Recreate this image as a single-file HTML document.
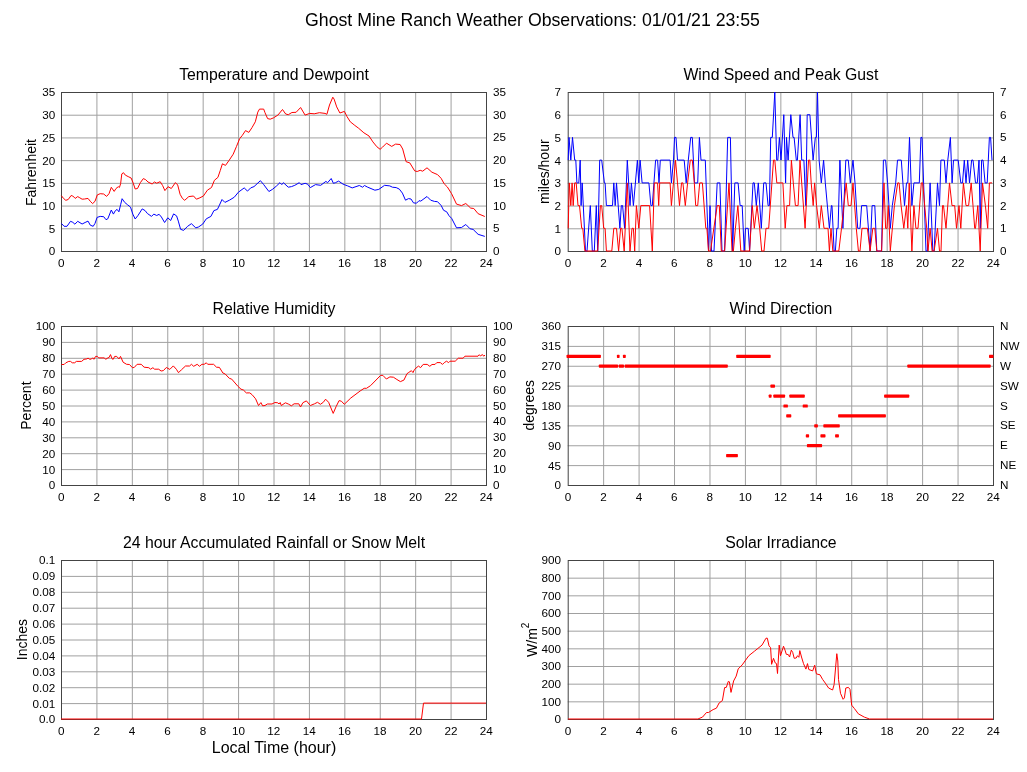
<!DOCTYPE html>
<html><head><meta charset="utf-8"><title>Ghost Mine Ranch Weather Observations</title>
<style>html,body{margin:0;padding:0;background:#fff;}svg{display:block;will-change:transform;}</style></head>
<body><svg width="1027" height="772" viewBox="0 0 1027 772" font-family="'Liberation Sans', Arial, Helvetica, sans-serif" font-size="11.7" fill="#000">
<rect width="1027" height="772" fill="#fff"/>
<text x="532.5" y="26" text-anchor="middle" font-size="17.7">Ghost Mine Ranch Weather Observations: 01/01/21 23:55</text>
<line x1="96.92" y1="92" x2="96.92" y2="251" stroke="#a0a0a0"/>
<line x1="132.33" y1="92" x2="132.33" y2="251" stroke="#a0a0a0"/>
<line x1="167.75" y1="92" x2="167.75" y2="251" stroke="#a0a0a0"/>
<line x1="203.17" y1="92" x2="203.17" y2="251" stroke="#a0a0a0"/>
<line x1="238.58" y1="92" x2="238.58" y2="251" stroke="#a0a0a0"/>
<line x1="274.00" y1="92" x2="274.00" y2="251" stroke="#a0a0a0"/>
<line x1="309.42" y1="92" x2="309.42" y2="251" stroke="#a0a0a0"/>
<line x1="344.83" y1="92" x2="344.83" y2="251" stroke="#a0a0a0"/>
<line x1="380.25" y1="92" x2="380.25" y2="251" stroke="#a0a0a0"/>
<line x1="415.67" y1="92" x2="415.67" y2="251" stroke="#a0a0a0"/>
<line x1="451.08" y1="92" x2="451.08" y2="251" stroke="#a0a0a0"/>
<line x1="61" y1="115.21" x2="486" y2="115.21" stroke="#a0a0a0"/>
<line x1="61" y1="137.93" x2="486" y2="137.93" stroke="#a0a0a0"/>
<line x1="61" y1="160.64" x2="486" y2="160.64" stroke="#a0a0a0"/>
<line x1="61" y1="183.36" x2="486" y2="183.36" stroke="#a0a0a0"/>
<line x1="61" y1="206.07" x2="486" y2="206.07" stroke="#a0a0a0"/>
<line x1="61" y1="228.79" x2="486" y2="228.79" stroke="#a0a0a0"/>
<rect x="61.5" y="92.5" width="425" height="159" fill="none" stroke="#444444"/>
<line x1="603.64" y1="92" x2="603.64" y2="251" stroke="#a0a0a0"/>
<line x1="639.08" y1="92" x2="639.08" y2="251" stroke="#a0a0a0"/>
<line x1="674.53" y1="92" x2="674.53" y2="251" stroke="#a0a0a0"/>
<line x1="709.97" y1="92" x2="709.97" y2="251" stroke="#a0a0a0"/>
<line x1="745.41" y1="92" x2="745.41" y2="251" stroke="#a0a0a0"/>
<line x1="780.85" y1="92" x2="780.85" y2="251" stroke="#a0a0a0"/>
<line x1="816.29" y1="92" x2="816.29" y2="251" stroke="#a0a0a0"/>
<line x1="851.73" y1="92" x2="851.73" y2="251" stroke="#a0a0a0"/>
<line x1="887.17" y1="92" x2="887.17" y2="251" stroke="#a0a0a0"/>
<line x1="922.62" y1="92" x2="922.62" y2="251" stroke="#a0a0a0"/>
<line x1="958.06" y1="92" x2="958.06" y2="251" stroke="#a0a0a0"/>
<line x1="567.7" y1="115.21" x2="993" y2="115.21" stroke="#a0a0a0"/>
<line x1="567.7" y1="137.93" x2="993" y2="137.93" stroke="#a0a0a0"/>
<line x1="567.7" y1="160.64" x2="993" y2="160.64" stroke="#a0a0a0"/>
<line x1="567.7" y1="183.36" x2="993" y2="183.36" stroke="#a0a0a0"/>
<line x1="567.7" y1="206.07" x2="993" y2="206.07" stroke="#a0a0a0"/>
<line x1="567.7" y1="228.79" x2="993" y2="228.79" stroke="#a0a0a0"/>
<rect x="568.2" y="92.5" width="425.29999999999995" height="159" fill="none" stroke="#444444"/>
<text x="55.2" y="255.4" text-anchor="end">0</text>
<text x="55.2" y="232.7" text-anchor="end">5</text>
<text x="55.2" y="210.0" text-anchor="end">10</text>
<text x="55.2" y="187.3" text-anchor="end">15</text>
<text x="55.2" y="164.5" text-anchor="end">20</text>
<text x="55.2" y="141.8" text-anchor="end">25</text>
<text x="55.2" y="119.1" text-anchor="end">30</text>
<text x="55.2" y="96.4" text-anchor="end">35</text>
<text x="493" y="255.0">0</text>
<text x="493" y="232.3">5</text>
<text x="493" y="209.6">10</text>
<text x="493" y="186.9">15</text>
<text x="493" y="164.1">20</text>
<text x="493" y="141.4">25</text>
<text x="493" y="118.7">30</text>
<text x="493" y="96.0">35</text>
<text x="561.0" y="255.4" text-anchor="end">0</text>
<text x="561.0" y="232.7" text-anchor="end">1</text>
<text x="561.0" y="210.0" text-anchor="end">2</text>
<text x="561.0" y="187.3" text-anchor="end">3</text>
<text x="561.0" y="164.5" text-anchor="end">4</text>
<text x="561.0" y="141.8" text-anchor="end">5</text>
<text x="561.0" y="119.1" text-anchor="end">6</text>
<text x="561.0" y="96.4" text-anchor="end">7</text>
<text x="1000" y="255.0">0</text>
<text x="1000" y="232.3">1</text>
<text x="1000" y="209.6">2</text>
<text x="1000" y="186.9">3</text>
<text x="1000" y="164.1">4</text>
<text x="1000" y="141.4">5</text>
<text x="1000" y="118.7">6</text>
<text x="1000" y="96.0">7</text>
<text x="61.3" y="266.5" text-anchor="middle">0</text>
<text x="96.7" y="266.5" text-anchor="middle">2</text>
<text x="132.1" y="266.5" text-anchor="middle">4</text>
<text x="167.6" y="266.5" text-anchor="middle">6</text>
<text x="203.0" y="266.5" text-anchor="middle">8</text>
<text x="238.4" y="266.5" text-anchor="middle">10</text>
<text x="273.8" y="266.5" text-anchor="middle">12</text>
<text x="309.2" y="266.5" text-anchor="middle">14</text>
<text x="344.6" y="266.5" text-anchor="middle">16</text>
<text x="380.1" y="266.5" text-anchor="middle">18</text>
<text x="415.5" y="266.5" text-anchor="middle">20</text>
<text x="450.9" y="266.5" text-anchor="middle">22</text>
<text x="486.3" y="266.5" text-anchor="middle">24</text>
<text x="568.0" y="266.5" text-anchor="middle">0</text>
<text x="603.4" y="266.5" text-anchor="middle">2</text>
<text x="638.9" y="266.5" text-anchor="middle">4</text>
<text x="674.3" y="266.5" text-anchor="middle">6</text>
<text x="709.8" y="266.5" text-anchor="middle">8</text>
<text x="745.2" y="266.5" text-anchor="middle">10</text>
<text x="780.6" y="266.5" text-anchor="middle">12</text>
<text x="816.1" y="266.5" text-anchor="middle">14</text>
<text x="851.5" y="266.5" text-anchor="middle">16</text>
<text x="887.0" y="266.5" text-anchor="middle">18</text>
<text x="922.4" y="266.5" text-anchor="middle">20</text>
<text x="957.9" y="266.5" text-anchor="middle">22</text>
<text x="993.3" y="266.5" text-anchor="middle">24</text>
<text x="274.0" y="80" text-anchor="middle" font-size="15.8">Temperature and Dewpoint</text>
<text x="780.9" y="80" text-anchor="middle" font-size="15.8">Wind Speed and Peak Gust</text>
<text transform="translate(35.5,172.5) rotate(-90)" text-anchor="middle" font-size="14">Fahrenheit</text>
<text transform="translate(548.5,171.7) rotate(-90)" text-anchor="middle" font-size="14">miles/hour</text>
<line x1="96.92" y1="326" x2="96.92" y2="485" stroke="#a0a0a0"/>
<line x1="132.33" y1="326" x2="132.33" y2="485" stroke="#a0a0a0"/>
<line x1="167.75" y1="326" x2="167.75" y2="485" stroke="#a0a0a0"/>
<line x1="203.17" y1="326" x2="203.17" y2="485" stroke="#a0a0a0"/>
<line x1="238.58" y1="326" x2="238.58" y2="485" stroke="#a0a0a0"/>
<line x1="274.00" y1="326" x2="274.00" y2="485" stroke="#a0a0a0"/>
<line x1="309.42" y1="326" x2="309.42" y2="485" stroke="#a0a0a0"/>
<line x1="344.83" y1="326" x2="344.83" y2="485" stroke="#a0a0a0"/>
<line x1="380.25" y1="326" x2="380.25" y2="485" stroke="#a0a0a0"/>
<line x1="415.67" y1="326" x2="415.67" y2="485" stroke="#a0a0a0"/>
<line x1="451.08" y1="326" x2="451.08" y2="485" stroke="#a0a0a0"/>
<line x1="61" y1="342.40" x2="486" y2="342.40" stroke="#a0a0a0"/>
<line x1="61" y1="358.30" x2="486" y2="358.30" stroke="#a0a0a0"/>
<line x1="61" y1="374.20" x2="486" y2="374.20" stroke="#a0a0a0"/>
<line x1="61" y1="390.10" x2="486" y2="390.10" stroke="#a0a0a0"/>
<line x1="61" y1="406.00" x2="486" y2="406.00" stroke="#a0a0a0"/>
<line x1="61" y1="421.90" x2="486" y2="421.90" stroke="#a0a0a0"/>
<line x1="61" y1="437.80" x2="486" y2="437.80" stroke="#a0a0a0"/>
<line x1="61" y1="453.70" x2="486" y2="453.70" stroke="#a0a0a0"/>
<line x1="61" y1="469.60" x2="486" y2="469.60" stroke="#a0a0a0"/>
<rect x="61.5" y="326.5" width="425" height="159" fill="none" stroke="#444444"/>
<line x1="603.64" y1="326" x2="603.64" y2="485" stroke="#a0a0a0"/>
<line x1="639.08" y1="326" x2="639.08" y2="485" stroke="#a0a0a0"/>
<line x1="674.53" y1="326" x2="674.53" y2="485" stroke="#a0a0a0"/>
<line x1="709.97" y1="326" x2="709.97" y2="485" stroke="#a0a0a0"/>
<line x1="745.41" y1="326" x2="745.41" y2="485" stroke="#a0a0a0"/>
<line x1="780.85" y1="326" x2="780.85" y2="485" stroke="#a0a0a0"/>
<line x1="816.29" y1="326" x2="816.29" y2="485" stroke="#a0a0a0"/>
<line x1="851.73" y1="326" x2="851.73" y2="485" stroke="#a0a0a0"/>
<line x1="887.17" y1="326" x2="887.17" y2="485" stroke="#a0a0a0"/>
<line x1="922.62" y1="326" x2="922.62" y2="485" stroke="#a0a0a0"/>
<line x1="958.06" y1="326" x2="958.06" y2="485" stroke="#a0a0a0"/>
<line x1="567.7" y1="346.38" x2="993" y2="346.38" stroke="#a0a0a0"/>
<line x1="567.7" y1="366.25" x2="993" y2="366.25" stroke="#a0a0a0"/>
<line x1="567.7" y1="386.12" x2="993" y2="386.12" stroke="#a0a0a0"/>
<line x1="567.7" y1="406.00" x2="993" y2="406.00" stroke="#a0a0a0"/>
<line x1="567.7" y1="425.88" x2="993" y2="425.88" stroke="#a0a0a0"/>
<line x1="567.7" y1="445.75" x2="993" y2="445.75" stroke="#a0a0a0"/>
<line x1="567.7" y1="465.62" x2="993" y2="465.62" stroke="#a0a0a0"/>
<rect x="568.2" y="326.5" width="425.29999999999995" height="159" fill="none" stroke="#444444"/>
<text x="55.2" y="489.4" text-anchor="end">0</text>
<text x="55.2" y="473.5" text-anchor="end">10</text>
<text x="55.2" y="457.6" text-anchor="end">20</text>
<text x="55.2" y="441.7" text-anchor="end">30</text>
<text x="55.2" y="425.8" text-anchor="end">40</text>
<text x="55.2" y="409.9" text-anchor="end">50</text>
<text x="55.2" y="394.0" text-anchor="end">60</text>
<text x="55.2" y="378.1" text-anchor="end">70</text>
<text x="55.2" y="362.2" text-anchor="end">80</text>
<text x="55.2" y="346.3" text-anchor="end">90</text>
<text x="55.2" y="330.4" text-anchor="end">100</text>
<text x="493" y="489.0">0</text>
<text x="493" y="473.1">10</text>
<text x="493" y="457.2">20</text>
<text x="493" y="441.3">30</text>
<text x="493" y="425.4">40</text>
<text x="493" y="409.5">50</text>
<text x="493" y="393.6">60</text>
<text x="493" y="377.7">70</text>
<text x="493" y="361.8">80</text>
<text x="493" y="345.9">90</text>
<text x="493" y="330.0">100</text>
<text x="561.0" y="489.4" text-anchor="end">0</text>
<text x="561.0" y="469.5" text-anchor="end">45</text>
<text x="561.0" y="449.6" text-anchor="end">90</text>
<text x="561.0" y="429.8" text-anchor="end">135</text>
<text x="561.0" y="409.9" text-anchor="end">180</text>
<text x="561.0" y="390.0" text-anchor="end">225</text>
<text x="561.0" y="370.1" text-anchor="end">270</text>
<text x="561.0" y="350.3" text-anchor="end">315</text>
<text x="561.0" y="330.4" text-anchor="end">360</text>
<text x="1000" y="489.0">N</text>
<text x="1000" y="469.1">NE</text>
<text x="1000" y="449.2">E</text>
<text x="1000" y="429.4">SE</text>
<text x="1000" y="409.5">S</text>
<text x="1000" y="389.6">SW</text>
<text x="1000" y="369.8">W</text>
<text x="1000" y="349.9">NW</text>
<text x="1000" y="330.0">N</text>
<text x="61.3" y="500.5" text-anchor="middle">0</text>
<text x="96.7" y="500.5" text-anchor="middle">2</text>
<text x="132.1" y="500.5" text-anchor="middle">4</text>
<text x="167.6" y="500.5" text-anchor="middle">6</text>
<text x="203.0" y="500.5" text-anchor="middle">8</text>
<text x="238.4" y="500.5" text-anchor="middle">10</text>
<text x="273.8" y="500.5" text-anchor="middle">12</text>
<text x="309.2" y="500.5" text-anchor="middle">14</text>
<text x="344.6" y="500.5" text-anchor="middle">16</text>
<text x="380.1" y="500.5" text-anchor="middle">18</text>
<text x="415.5" y="500.5" text-anchor="middle">20</text>
<text x="450.9" y="500.5" text-anchor="middle">22</text>
<text x="486.3" y="500.5" text-anchor="middle">24</text>
<text x="568.0" y="500.5" text-anchor="middle">0</text>
<text x="603.4" y="500.5" text-anchor="middle">2</text>
<text x="638.9" y="500.5" text-anchor="middle">4</text>
<text x="674.3" y="500.5" text-anchor="middle">6</text>
<text x="709.8" y="500.5" text-anchor="middle">8</text>
<text x="745.2" y="500.5" text-anchor="middle">10</text>
<text x="780.6" y="500.5" text-anchor="middle">12</text>
<text x="816.1" y="500.5" text-anchor="middle">14</text>
<text x="851.5" y="500.5" text-anchor="middle">16</text>
<text x="887.0" y="500.5" text-anchor="middle">18</text>
<text x="922.4" y="500.5" text-anchor="middle">20</text>
<text x="957.9" y="500.5" text-anchor="middle">22</text>
<text x="993.3" y="500.5" text-anchor="middle">24</text>
<text x="274.0" y="314" text-anchor="middle" font-size="15.8">Relative Humidity</text>
<text x="780.9" y="314" text-anchor="middle" font-size="15.8">Wind Direction</text>
<text transform="translate(30.7,405.6) rotate(-90)" text-anchor="middle" font-size="14">Percent</text>
<text transform="translate(533.8,405.2) rotate(-90)" text-anchor="middle" font-size="14">degrees</text>
<line x1="96.92" y1="560" x2="96.92" y2="719" stroke="#a0a0a0"/>
<line x1="132.33" y1="560" x2="132.33" y2="719" stroke="#a0a0a0"/>
<line x1="167.75" y1="560" x2="167.75" y2="719" stroke="#a0a0a0"/>
<line x1="203.17" y1="560" x2="203.17" y2="719" stroke="#a0a0a0"/>
<line x1="238.58" y1="560" x2="238.58" y2="719" stroke="#a0a0a0"/>
<line x1="274.00" y1="560" x2="274.00" y2="719" stroke="#a0a0a0"/>
<line x1="309.42" y1="560" x2="309.42" y2="719" stroke="#a0a0a0"/>
<line x1="344.83" y1="560" x2="344.83" y2="719" stroke="#a0a0a0"/>
<line x1="380.25" y1="560" x2="380.25" y2="719" stroke="#a0a0a0"/>
<line x1="415.67" y1="560" x2="415.67" y2="719" stroke="#a0a0a0"/>
<line x1="451.08" y1="560" x2="451.08" y2="719" stroke="#a0a0a0"/>
<line x1="61" y1="576.40" x2="486" y2="576.40" stroke="#a0a0a0"/>
<line x1="61" y1="592.30" x2="486" y2="592.30" stroke="#a0a0a0"/>
<line x1="61" y1="608.20" x2="486" y2="608.20" stroke="#a0a0a0"/>
<line x1="61" y1="624.10" x2="486" y2="624.10" stroke="#a0a0a0"/>
<line x1="61" y1="640.00" x2="486" y2="640.00" stroke="#a0a0a0"/>
<line x1="61" y1="655.90" x2="486" y2="655.90" stroke="#a0a0a0"/>
<line x1="61" y1="671.80" x2="486" y2="671.80" stroke="#a0a0a0"/>
<line x1="61" y1="687.70" x2="486" y2="687.70" stroke="#a0a0a0"/>
<line x1="61" y1="703.60" x2="486" y2="703.60" stroke="#a0a0a0"/>
<rect x="61.5" y="560.5" width="425" height="159" fill="none" stroke="#444444"/>
<line x1="603.64" y1="560" x2="603.64" y2="719" stroke="#a0a0a0"/>
<line x1="639.08" y1="560" x2="639.08" y2="719" stroke="#a0a0a0"/>
<line x1="674.53" y1="560" x2="674.53" y2="719" stroke="#a0a0a0"/>
<line x1="709.97" y1="560" x2="709.97" y2="719" stroke="#a0a0a0"/>
<line x1="745.41" y1="560" x2="745.41" y2="719" stroke="#a0a0a0"/>
<line x1="780.85" y1="560" x2="780.85" y2="719" stroke="#a0a0a0"/>
<line x1="816.29" y1="560" x2="816.29" y2="719" stroke="#a0a0a0"/>
<line x1="851.73" y1="560" x2="851.73" y2="719" stroke="#a0a0a0"/>
<line x1="887.17" y1="560" x2="887.17" y2="719" stroke="#a0a0a0"/>
<line x1="922.62" y1="560" x2="922.62" y2="719" stroke="#a0a0a0"/>
<line x1="958.06" y1="560" x2="958.06" y2="719" stroke="#a0a0a0"/>
<line x1="567.7" y1="578.17" x2="993" y2="578.17" stroke="#a0a0a0"/>
<line x1="567.7" y1="595.83" x2="993" y2="595.83" stroke="#a0a0a0"/>
<line x1="567.7" y1="613.50" x2="993" y2="613.50" stroke="#a0a0a0"/>
<line x1="567.7" y1="631.17" x2="993" y2="631.17" stroke="#a0a0a0"/>
<line x1="567.7" y1="648.83" x2="993" y2="648.83" stroke="#a0a0a0"/>
<line x1="567.7" y1="666.50" x2="993" y2="666.50" stroke="#a0a0a0"/>
<line x1="567.7" y1="684.17" x2="993" y2="684.17" stroke="#a0a0a0"/>
<line x1="567.7" y1="701.83" x2="993" y2="701.83" stroke="#a0a0a0"/>
<rect x="568.2" y="560.5" width="425.29999999999995" height="159" fill="none" stroke="#444444"/>
<text x="55.2" y="723.4" text-anchor="end">0.0</text>
<text x="55.2" y="707.5" text-anchor="end">0.01</text>
<text x="55.2" y="691.6" text-anchor="end">0.02</text>
<text x="55.2" y="675.7" text-anchor="end">0.03</text>
<text x="55.2" y="659.8" text-anchor="end">0.04</text>
<text x="55.2" y="643.9" text-anchor="end">0.05</text>
<text x="55.2" y="628.0" text-anchor="end">0.06</text>
<text x="55.2" y="612.1" text-anchor="end">0.07</text>
<text x="55.2" y="596.2" text-anchor="end">0.08</text>
<text x="55.2" y="580.3" text-anchor="end">0.09</text>
<text x="55.2" y="564.4" text-anchor="end">0.1</text>
<text x="561.0" y="723.4" text-anchor="end">0</text>
<text x="561.0" y="705.7" text-anchor="end">100</text>
<text x="561.0" y="688.1" text-anchor="end">200</text>
<text x="561.0" y="670.4" text-anchor="end">300</text>
<text x="561.0" y="652.7" text-anchor="end">400</text>
<text x="561.0" y="635.1" text-anchor="end">500</text>
<text x="561.0" y="617.4" text-anchor="end">600</text>
<text x="561.0" y="599.7" text-anchor="end">700</text>
<text x="561.0" y="582.1" text-anchor="end">800</text>
<text x="561.0" y="564.4" text-anchor="end">900</text>
<text x="61.3" y="734.5" text-anchor="middle">0</text>
<text x="96.7" y="734.5" text-anchor="middle">2</text>
<text x="132.1" y="734.5" text-anchor="middle">4</text>
<text x="167.6" y="734.5" text-anchor="middle">6</text>
<text x="203.0" y="734.5" text-anchor="middle">8</text>
<text x="238.4" y="734.5" text-anchor="middle">10</text>
<text x="273.8" y="734.5" text-anchor="middle">12</text>
<text x="309.2" y="734.5" text-anchor="middle">14</text>
<text x="344.6" y="734.5" text-anchor="middle">16</text>
<text x="380.1" y="734.5" text-anchor="middle">18</text>
<text x="415.5" y="734.5" text-anchor="middle">20</text>
<text x="450.9" y="734.5" text-anchor="middle">22</text>
<text x="486.3" y="734.5" text-anchor="middle">24</text>
<text x="568.0" y="734.5" text-anchor="middle">0</text>
<text x="603.4" y="734.5" text-anchor="middle">2</text>
<text x="638.9" y="734.5" text-anchor="middle">4</text>
<text x="674.3" y="734.5" text-anchor="middle">6</text>
<text x="709.8" y="734.5" text-anchor="middle">8</text>
<text x="745.2" y="734.5" text-anchor="middle">10</text>
<text x="780.6" y="734.5" text-anchor="middle">12</text>
<text x="816.1" y="734.5" text-anchor="middle">14</text>
<text x="851.5" y="734.5" text-anchor="middle">16</text>
<text x="887.0" y="734.5" text-anchor="middle">18</text>
<text x="922.4" y="734.5" text-anchor="middle">20</text>
<text x="957.9" y="734.5" text-anchor="middle">22</text>
<text x="993.3" y="734.5" text-anchor="middle">24</text>
<text x="274.0" y="548" text-anchor="middle" font-size="15.8">24 hour Accumulated Rainfall or Snow Melt</text>
<text x="780.9" y="548" text-anchor="middle" font-size="15.8">Solar Irradiance</text>
<text transform="translate(26.8,639.5) rotate(-90)" text-anchor="middle" font-size="14">Inches</text>
<text transform="translate(536.8,639.8) rotate(-90)" text-anchor="middle" font-size="14">W/m<tspan font-size="10" dy="-8">2</tspan></text>
<text x="274" y="753" text-anchor="middle" font-size="16">Local Time (hour)</text>
<polyline points="61.4,195.7 63.5,198.4 65.8,200.3 68.2,199.5 71.1,195.5 72.8,196.0 75.2,198.4 77.7,196.6 79.8,197.8 82.1,199.2 84.5,199.0 88.0,198.4 90.3,201.3 92.6,203.6 95.0,201.3 97.3,194.9 100.2,193.7 103.7,194.0 106.6,196.4 109.0,193.7 111.3,187.3 114.2,191.4 116.0,188.5 118.3,186.7 119.4,187.5 120.6,183.8 121.8,173.9 123.5,172.7 125.3,175.1 128.2,176.6 131.1,178.0 132.8,182.0 135.2,189.0 137.5,188.5 140.4,182.6 143.3,178.6 145.7,179.7 148.0,182.0 152.1,184.0 154.4,182.0 156.7,183.2 160.2,181.7 162.6,185.5 164.9,190.6 168.0,186.7 171.3,188.5 175.4,182.6 177.7,185.0 180.1,194.3 182.4,198.4 184.7,200.3 188.8,196.6 193.5,196.0 196.4,199.2 199.9,197.8 203.4,196.0 207.4,190.2 211.5,187.5 214.4,180.3 217.9,177.4 220.3,170.4 222.4,163.8 225.5,165.4 229.0,160.5 233.2,154.2 236.5,146.4 239.7,138.6 242.3,135.4 245.5,130.6 248.8,132.4 252.0,127.6 255.3,121.8 257.8,112.1 259.5,109.1 263.7,109.1 265.0,112.7 267.6,118.6 270.2,119.2 273.4,117.9 277.9,115.1 282.5,109.5 285.7,114.0 288.3,114.7 291.9,112.5 296.1,112.3 300.6,107.5 305.1,115.1 309.7,113.4 314.2,113.8 319.4,112.7 325.0,113.4 326.9,114.3 329.5,105.0 332.8,97.2 334.1,99.1 336.7,106.9 339.9,113.0 344.4,111.4 347.0,116.6 350.3,121.8 354.8,125.4 358.7,128.3 363.9,132.8 369.0,136.0 372.9,141.9 376.8,146.7 380.1,149.3 382.6,147.1 386.5,143.2 391.7,146.4 395.6,144.1 400.1,144.5 402.7,149.0 406.1,161.7 409.8,162.9 414.7,170.9 417.2,171.5 420.2,170.3 422.7,171.2 427.0,167.8 431.9,172.2 437.5,174.6 441.1,178.3 444.2,183.8 447.3,186.9 451.6,193.7 456.5,204.1 461.5,205.6 465.8,203.5 470.7,208.1 473.8,208.5 478.1,213.7 484.8,216.5" fill="none" stroke="#ff0000" stroke-width="1.0" stroke-linejoin="round"/>
<polyline points="61.4,223.4 64.1,226.3 67.0,226.3 70.5,221.3 72.8,222.3 74.9,224.2 77.7,221.3 82.1,224.0 85.1,222.5 88.0,221.1 90.3,225.2 93.2,226.3 95.0,223.4 97.1,217.4 100.2,216.4 103.7,216.7 106.0,219.7 107.8,218.8 111.3,210.0 113.4,214.1 115.4,210.6 117.1,209.4 118.9,211.8 120.6,204.8 122.1,198.7 124.7,202.4 127.6,204.8 130.5,207.1 132.8,214.1 135.2,219.0 138.1,215.3 142.2,208.9 145.1,210.6 147.4,213.5 151.5,216.4 153.8,214.1 156.7,215.5 159.1,214.3 161.4,217.0 164.6,222.5 167.8,217.8 170.7,220.5 173.6,213.9 176.6,215.9 178.3,221.1 180.6,229.3 183.6,230.4 187.6,226.3 191.4,223.7 195.8,227.9 198.7,226.9 202.8,224.0 206.3,218.8 210.9,216.4 213.9,210.6 217.4,209.4 219.1,205.9 222.0,199.5 224.9,202.4 229.6,200.1 234.3,197.2 238.4,192.2 244.2,187.9 247.5,191.1 250.7,187.9 254.0,186.6 260.4,180.7 263.7,184.6 268.9,191.5 272.7,189.2 276.6,185.9 279.9,182.7 281.8,184.6 283.4,182.7 288.3,187.2 291.5,186.6 294.8,185.3 299.3,182.7 301.0,184.6 305.1,183.3 307.7,184.2 310.3,187.6 315.5,184.6 320.7,185.3 325.9,181.4 327.6,182.7 331.2,178.5 333.4,183.3 335.4,182.7 338.6,181.1 343.1,184.2 347.7,185.9 352.2,187.9 359.3,185.5 362.6,187.2 364.5,185.5 367.7,187.2 374.9,190.2 378.8,189.4 384.6,185.3 389.8,185.9 392.4,187.2 396.2,187.6 399.3,189.1 402.4,193.1 405.5,200.2 408.5,198.6 411.0,199.0 413.5,202.9 416.5,203.2 419.0,200.7 420.8,201.1 427.0,196.5 430.7,200.2 434.4,201.4 437.5,201.7 441.1,205.4 443.6,210.3 446.7,211.8 449.1,215.8 451.6,218.3 456.5,227.8 461.5,227.5 465.8,224.5 470.1,228.8 473.1,229.4 478.1,234.3 484.8,236.4" fill="none" stroke="#0000ff" stroke-width="1.0" stroke-linejoin="round"/>
<polyline points="568.2,160.1 569.0,137.4 570.8,160.1 572.5,137.4 574.7,160.1 575.8,160.1 576.9,182.9 577.5,182.9 578.8,182.9 580.2,160.1 581.1,205.6 582.2,182.9 585.5,251.0 587.0,251.0 590.3,205.6 592.3,251.0 594.3,251.0 596.3,205.6 597.7,251.0 599.7,160.1 601.7,160.1 604.4,182.9 605.1,182.9 606.4,205.6 612.5,205.6 613.8,182.9 615.2,205.6 616.5,182.9 619.9,228.3 621.3,205.6 622.6,205.6 624.6,228.3 627.3,160.1 630.0,205.6 631.4,182.9 633.4,205.6 637.4,160.1 638.8,182.9 640.1,160.1 642.1,182.9 648.9,182.9 650.9,205.6 652.3,205.6 655.6,160.1 657.6,160.1 659.0,182.9 660.3,160.1 670.1,160.1 671.4,182.9 673.5,160.1 674.5,137.4 676.0,137.4 677.5,160.1 684.2,160.1 686.2,182.9 688.3,160.1 690.7,137.4 692.3,137.4 694.5,182.9 697.7,182.9 699.4,137.4 701.0,160.1 705.3,160.1 708.5,251.0 710.0,205.6 711.5,251.0 714.0,251.0 717.2,182.9 719.9,182.9 722.0,251.0 724.6,251.0 727.7,137.4 730.4,137.4 732.7,251.0 734.8,182.9 738.1,182.9 740.1,205.6 742.2,205.6 744.2,251.0 745.5,228.3 748.2,228.3 749.6,251.0 753.0,182.9 754.3,182.9 756.3,205.6 758.3,182.9 761.3,228.3 763.7,182.9 766.0,182.9 768.1,205.6 769.4,205.6 770.7,137.4 772.3,137.4 774.8,92.0 776.7,160.1 777.8,160.1 779.4,137.4 781.0,160.1 783.8,114.7 785.6,182.9 786.5,137.4 788.1,160.1 790.8,114.7 793.0,137.4 794.1,137.4 796.3,160.1 797.4,160.1 800.1,114.7 801.7,160.1 803.9,160.1 805.8,205.6 807.2,114.7 809.9,114.7 813.1,160.1 815.3,137.4 816.4,137.4 817.5,92.0 819.1,160.1 821.3,182.9 823.6,160.1 825.3,182.9 829.4,228.3 831.4,205.6 832.0,205.6 834.1,251.0 835.4,251.0 836.8,228.3 838.1,228.3 839.9,160.1 842.9,228.3 845.8,160.1 848.3,160.1 850.3,182.9 853.0,160.1 855.0,182.9 857.7,228.3 860.0,228.3 861.6,205.6 866.7,205.6 870.1,251.0 872.1,205.6 874.8,205.6 876.8,251.0 881.6,251.0 883.4,160.1 885.6,160.1 887.6,182.9 890.3,228.3 892.3,205.6 895.7,182.9 897.5,160.1 901.3,160.1 904.5,205.6 906.5,182.9 907.8,182.9 909.5,137.4 911.9,205.6 913.9,182.9 919.3,182.9 920.9,137.4 922.0,137.4 926.0,251.0 927.4,251.0 930.1,182.9 932.8,251.0 934.1,251.0 937.5,182.9 939.5,205.6 940.9,160.1 944.3,160.1 946.0,182.9 947.8,160.1 950.4,137.4 952.1,182.9 953.5,160.1 958.2,160.1 960.8,182.9 962.5,182.9 964.3,160.1 966.0,182.9 967.7,160.1 969.5,182.9 971.6,160.1 973.0,160.1 975.5,182.9 977.3,182.9 979.0,160.1 980.3,228.3 981.6,160.1 983.0,160.1 985.1,182.9 987.2,182.9 989.4,137.4 990.6,137.4 992.0,160.1" fill="none" stroke="#0000ff" stroke-width="1.0" stroke-linejoin="round"/>
<polyline points="568.2,228.3 569.3,182.9 570.8,205.6 572.1,182.9 573.2,205.6 574.7,182.9 576.2,182.9 578.0,205.6 579.5,205.6 581.7,228.3 582.8,228.3 584.9,251.0 597.7,251.0 600.4,205.6 601.7,205.6 603.7,228.3 605.1,228.3 606.4,251.0 611.8,251.0 613.8,228.3 616.5,228.3 618.6,251.0 620.6,228.3 621.9,228.3 624.2,251.0 627.3,182.9 630.0,251.0 632.0,228.3 633.4,228.3 634.7,251.0 636.4,205.6 638.8,228.3 640.8,205.6 649.6,205.6 652.3,251.0 654.3,182.9 657.6,182.9 658.7,205.6 659.7,182.9 670.1,182.9 671.4,205.6 675.5,160.1 677.5,182.9 679.5,205.6 681.5,182.9 682.9,182.9 685.3,205.6 687.6,182.9 690.3,160.1 692.3,160.1 694.3,182.9 695.7,205.6 697.7,205.6 699.7,182.9 702.4,182.9 705.8,228.3 706.9,228.3 708.5,251.0 710.5,251.0 717.2,205.6 719.3,205.6 721.3,251.0 724.6,251.0 729.0,182.9 732.0,251.0 733.4,251.0 735.4,228.3 737.9,205.6 740.8,251.0 749.6,251.0 752.3,205.6 754.3,228.3 757.0,205.6 759.7,228.3 761.7,251.0 764.0,251.0 766.0,228.3 768.7,228.3 773.5,160.1 774.8,160.1 776.8,182.9 782.9,182.9 785.2,228.3 786.9,205.6 789.6,205.6 791.4,160.1 793.3,182.9 795.4,205.6 798.1,205.6 800.0,160.1 805.1,228.3 808.5,160.1 809.8,160.1 811.2,182.9 813.2,205.6 814.6,182.9 816.6,205.6 819.3,228.3 821.3,205.6 824.0,228.3 828.0,228.3 829.4,251.0 831.0,228.3 832.8,251.0 838.8,251.0 841.5,228.3 846.2,182.9 848.3,205.6 851.0,205.6 853.0,182.9 856.3,228.3 858.4,251.0 860.0,251.0 862.0,228.3 867.4,228.3 870.1,251.0 872.8,228.3 874.8,228.3 876.8,251.0 881.6,251.0 884.0,182.9 885.6,228.3 887.0,228.3 888.3,205.6 890.3,251.0 894.4,205.6 897.7,182.9 899.1,182.9 901.1,205.6 903.8,228.3 906.5,205.6 907.8,228.3 909.2,182.9 911.9,251.0 913.9,205.6 915.9,228.3 918.0,228.3 921.3,182.9 922.7,182.9 926.7,228.3 928.0,251.0 930.1,228.3 932.1,251.0 934.1,251.0 937.5,228.3 939.5,251.0 941.0,251.0 942.5,205.6 943.5,205.6 946.0,228.3 949.5,182.9 952.0,205.6 954.7,205.6 956.5,228.3 959.0,205.6 960.8,228.3 963.4,182.9 966.0,205.6 968.6,205.6 971.2,182.9 973.0,205.6 974.7,228.3 975.5,228.3 977.8,205.6 980.2,251.0 982.5,182.9 985.4,205.6 987.7,228.3 989.4,182.9 992.0,182.9" fill="none" stroke="#ff0000" stroke-width="1.0" stroke-linejoin="round"/>
<polyline points="61.4,364.5 64.1,364.5 65.8,362.8 68.8,361.4 70.5,361.4 72.3,362.8 74.6,362.8 76.4,361.4 81.6,361.4 84.0,359.3 86.9,358.9 88.0,358.1 89.8,359.3 91.5,359.0 92.7,357.8 93.9,359.3 95.6,356.4 97.4,356.4 98.6,357.9 104.4,357.9 105.6,359.3 107.9,357.9 109.1,357.5 110.5,354.6 112.0,358.7 113.2,359.3 114.7,356.4 116.7,356.4 119.0,358.9 120.5,356.4 123.1,362.2 126.6,364.3 129.5,364.5 132.4,367.7 134.2,367.5 137.1,364.3 141.2,364.3 144.1,367.2 148.8,367.7 150.6,369.2 152.9,367.7 154.6,369.2 158.7,369.2 161.1,371.0 163.4,370.6 166.3,367.5 169.8,369.4 173.3,365.9 176.4,369.3 178.5,372.7 181.4,369.8 185.5,366.0 189.6,366.0 191.4,364.3 193.7,366.3 197.2,364.3 199.5,366.3 201.9,364.3 204.2,364.3 206.3,362.8 207.7,364.3 213.6,364.3 216.5,367.2 219.4,367.4 222.9,373.0 225.2,374.0 229.3,378.3 231.7,379.1 238.1,386.5 241.0,389.2 243.4,390.0 246.3,392.9 249.8,392.9 252.1,394.7 255.6,398.8 258.5,405.5 260.9,402.6 262.6,405.8 265.0,405.5 267.3,404.0 272.0,404.0 274.9,402.5 277.8,402.8 279.0,404.0 280.2,402.5 281.3,405.5 285.4,402.8 288.3,404.0 291.4,405.8 294.1,403.8 298.8,403.8 300.5,407.0 302.9,402.7 306.4,400.9 310.4,405.5 314.5,403.8 317.5,402.3 320.4,404.3 323.3,402.3 325.6,399.2 328.6,402.3 333.2,413.4 336.2,406.4 339.1,400.6 341.4,401.2 344.3,404.3 350.8,398.0 356.0,394.1 360.1,391.0 364.2,388.3 366.5,388.3 370.6,385.6 380.6,375.4 382.9,375.4 386.4,379.0 389.9,376.9 393.4,377.2 396.9,379.5 400.4,381.6 403.9,380.1 407.0,373.7 408.8,372.4 411.4,370.7 413.0,372.6 414.5,369.4 418.4,366.1 420.6,367.6 423.2,364.4 427.2,364.4 429.8,366.3 432.0,364.5 435.1,364.4 436.8,362.6 440.3,362.6 442.5,364.4 444.3,362.6 446.5,361.2 448.6,362.6 450.0,361.2 455.2,361.2 458.3,358.2 463.1,358.2 464.9,356.2 478.0,356.2 479.3,354.7 480.5,356.0 482.4,354.5 483.7,356.2 485.0,355.1" fill="none" stroke="#ff0000" stroke-width="1.0" stroke-linejoin="round"/>
<rect x="566.5" y="354.7" width="34.4" height="3.2" rx="0.7" fill="#ff0000"/>
<rect x="598.8" y="364.6" width="19.3" height="3.2" rx="0.7" fill="#ff0000"/>
<rect x="618.7" y="364.6" width="5.3" height="3.2" rx="0.7" fill="#ff0000"/>
<rect x="624.6" y="364.6" width="103.2" height="3.2" rx="0.7" fill="#ff0000"/>
<rect x="616.9" y="354.7" width="2.7" height="3.2" rx="0.7" fill="#ff0000"/>
<rect x="622.9" y="354.7" width="2.9" height="3.2" rx="0.7" fill="#ff0000"/>
<rect x="726.1" y="454.1" width="11.8" height="3.2" rx="0.7" fill="#ff0000"/>
<rect x="736.2" y="354.7" width="34.5" height="3.2" rx="0.7" fill="#ff0000"/>
<rect x="770.4" y="384.5" width="4.6" height="3.2" rx="0.7" fill="#ff0000"/>
<rect x="768.7" y="394.5" width="2.9" height="3.2" rx="0.7" fill="#ff0000"/>
<rect x="773.3" y="394.5" width="11.8" height="3.2" rx="0.7" fill="#ff0000"/>
<rect x="789.3" y="394.5" width="15.5" height="3.2" rx="0.7" fill="#ff0000"/>
<rect x="783.4" y="404.4" width="4.5" height="3.2" rx="0.7" fill="#ff0000"/>
<rect x="802.7" y="404.4" width="5.1" height="3.2" rx="0.7" fill="#ff0000"/>
<rect x="786.2" y="414.3" width="5.1" height="3.2" rx="0.7" fill="#ff0000"/>
<rect x="838.1" y="414.3" width="47.8" height="3.2" rx="0.7" fill="#ff0000"/>
<rect x="814.2" y="424.3" width="3.7" height="3.2" rx="0.7" fill="#ff0000"/>
<rect x="823.3" y="424.3" width="16.5" height="3.2" rx="0.7" fill="#ff0000"/>
<rect x="805.8" y="434.2" width="3.3" height="3.2" rx="0.7" fill="#ff0000"/>
<rect x="820.4" y="434.2" width="5.1" height="3.2" rx="0.7" fill="#ff0000"/>
<rect x="835.1" y="434.2" width="3.8" height="3.2" rx="0.7" fill="#ff0000"/>
<rect x="806.9" y="444.1" width="15.2" height="3.2" rx="0.7" fill="#ff0000"/>
<rect x="884.1" y="394.5" width="25.2" height="3.2" rx="0.7" fill="#ff0000"/>
<rect x="907.3" y="364.6" width="83.4" height="3.2" rx="0.7" fill="#ff0000"/>
<rect x="989.0" y="354.7" width="4.5" height="3.2" rx="0.7" fill="#ff0000"/>
<polyline points="61.0,719.0 421.5,719.0 423.5,703.1 486.0,703.1" fill="none" stroke="#ff0000" stroke-width="1.0" stroke-linejoin="round"/>
<polyline points="568.0,719.0 697.9,719.0 702.5,717.1 706.5,712.5 708.5,712.5 713.1,709.6 716.4,708.2 719.1,703.0 722.4,700.6 724.6,687.6 726.3,687.4 728.3,681.4 729.4,681.8 731.0,692.4 733.6,681.0 736.2,676.1 738.2,668.9 742.2,664.9 748.8,655.7 754.7,651.0 762.0,645.1 766.0,638.2 767.3,638.2 769.0,645.8 770.6,647.7 771.6,664.3 773.5,658.3 775.2,662.9 776.5,663.6 777.5,673.5 779.2,645.1 780.5,655.7 783.5,646.2 785.0,650.1 786.3,654.3 788.3,654.6 789.6,657.0 791.3,650.1 792.7,652.4 794.2,658.3 796.2,658.0 797.5,655.7 798.9,657.3 799.8,650.6 801.5,657.0 803.5,663.6 805.9,669.1 807.5,663.6 808.8,669.5 812.7,670.9 814.7,665.2 816.4,673.9 820.0,674.8 822.6,679.4 825.3,683.1 828.6,688.0 832.6,690.0 834.1,684.7 836.8,653.7 837.8,661.0 838.5,679.4 840.5,693.3 843.1,699.3 844.4,697.9 845.8,688.0 848.4,687.4 850.0,689.4 851.7,705.2 854.4,708.5 858.3,713.8 864.3,717.1 869.5,719.0 993.0,719.0" fill="none" stroke="#ff0000" stroke-width="1.0" stroke-linejoin="round"/>
</svg></body></html>
